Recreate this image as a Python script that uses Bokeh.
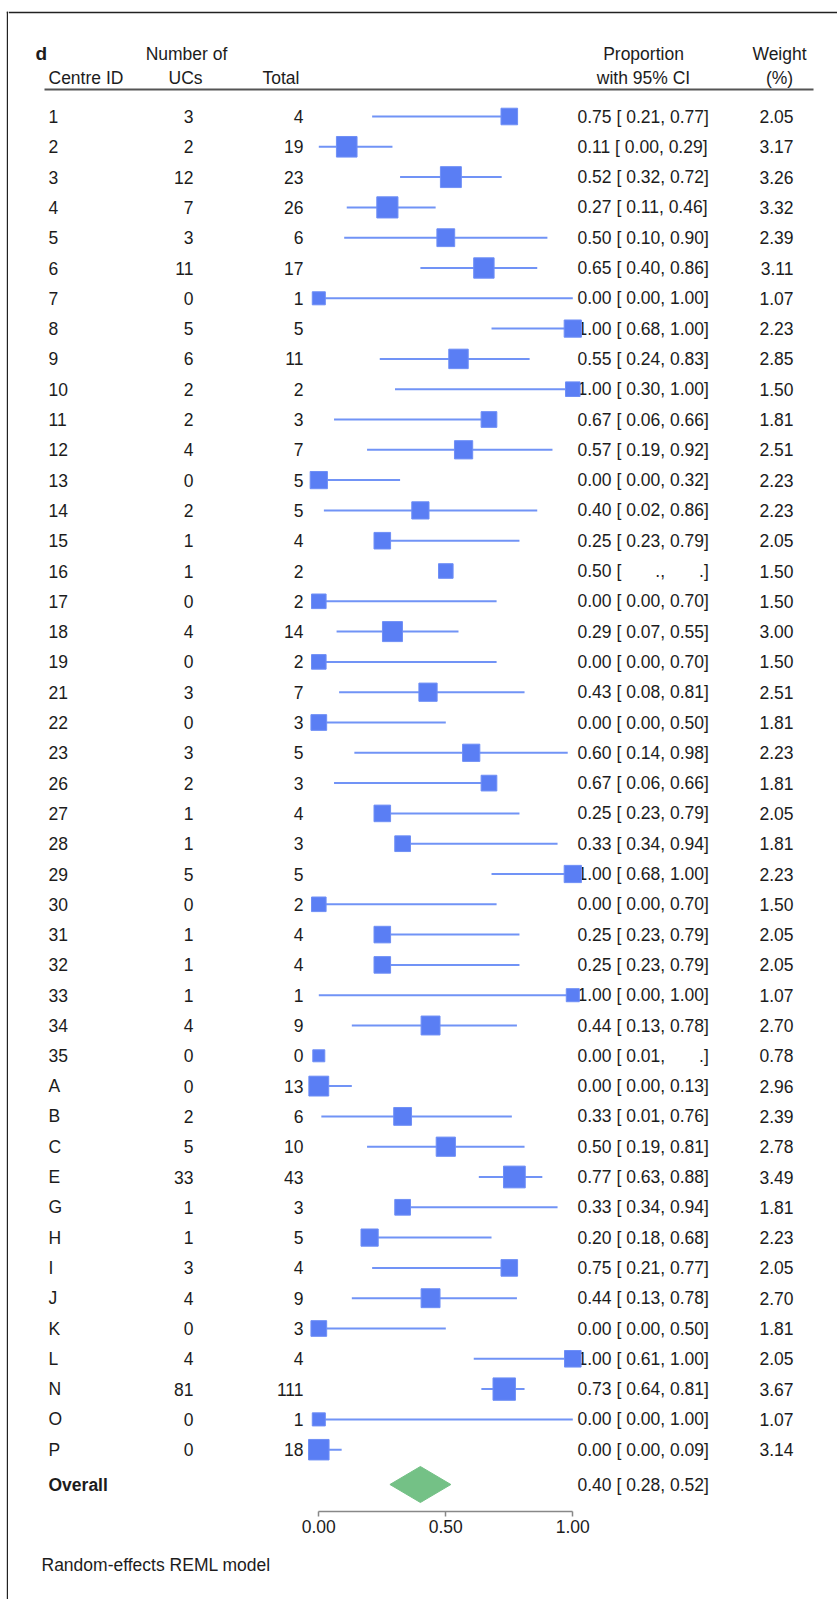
import math

from bokeh.core.properties import value
from bokeh.embed import file_html
from bokeh.layouts import column, row
from bokeh.models import (ColumnDataSource, FixedTicker, LinearAxis,
                          PrintfTickFormatter, Range1d)
from bokeh.plotting import figure
from bokeh.resources import INLINE

# ---- study-level data -------------------------------------------------------
centre_ids = ["1", "2", "3", "4", "5", "6", "7", "8", "9", "10", "11", "12", "13",
              "14", "15", "16", "17", "18", "19", "21", "22", "23", "26", "27", "28",
              "29", "30", "31", "32", "33", "34", "35", "A", "B", "C", "E", "G", "H",
              "I", "J", "K", "L", "N", "O", "P"]
n_ucs = [3, 2, 12, 7, 3, 11, 0, 5, 6, 2, 2, 4, 0, 2, 1, 1, 0, 4, 0, 3, 0, 3, 2, 1, 1,
         5, 0, 1, 1, 1, 4, 0, 0, 2, 5, 33, 1, 1, 3, 4, 0, 4, 81, 0, 0]
n_total = [4, 19, 23, 26, 6, 17, 1, 5, 11, 2, 3, 7, 5, 5, 4, 2, 2, 14, 2, 7, 3, 5, 3,
           4, 3, 5, 2, 4, 4, 1, 9, 0, 13, 6, 10, 43, 3, 5, 4, 9, 3, 4, 111, 1, 18]
proportion = [0.75, 0.11, 0.52, 0.27, 0.50, 0.65, 0.00, 1.00, 0.55, 1.00, 0.67, 0.57,
              0.00, 0.40, 0.25, 0.50, 0.00, 0.29, 0.00, 0.43, 0.00, 0.60, 0.67, 0.25,
              0.33, 1.00, 0.00, 0.25, 0.25, 1.00, 0.44, 0.00, 0.00, 0.33, 0.50, 0.77,
              0.33, 0.20, 0.75, 0.44, 0.00, 1.00, 0.73, 0.00, 0.00]
ci_low = [0.21, 0.00, 0.32, 0.11, 0.10, 0.40, 0.00, 0.68, 0.24, 0.30, 0.06, 0.19,
          0.00, 0.02, 0.23, None, 0.00, 0.07, 0.00, 0.08, 0.00, 0.14, 0.06, 0.23,
          0.34, 0.68, 0.00, 0.23, 0.23, 0.00, 0.13, 0.01, 0.00, 0.01, 0.19, 0.63,
          0.34, 0.18, 0.21, 0.13, 0.00, 0.61, 0.64, 0.00, 0.00]
ci_high = [0.77, 0.29, 0.72, 0.46, 0.90, 0.86, 1.00, 1.00, 0.83, 1.00, 0.66, 0.92,
           0.32, 0.86, 0.79, None, 0.70, 0.55, 0.70, 0.81, 0.50, 0.98, 0.66, 0.79,
           0.94, 1.00, 0.70, 0.79, 0.79, 1.00, 0.78, None, 0.13, 0.76, 0.81, 0.88,
           0.94, 0.68, 0.77, 0.78, 0.50, 1.00, 0.81, 1.00, 0.09]
weight_pct = [2.05, 3.17, 3.26, 3.32, 2.39, 3.11, 1.07, 2.23, 2.85, 1.50, 1.81, 2.51,
              2.23, 2.23, 2.05, 1.50, 1.50, 3.00, 1.50, 2.51, 1.81, 2.23, 1.81, 2.05,
              1.81, 2.23, 1.50, 2.05, 2.05, 1.07, 2.70, 0.78, 2.96, 2.39, 2.78, 3.49,
              1.81, 2.23, 2.05, 2.70, 1.81, 2.05, 3.67, 1.07, 3.14]

overall_est, overall_low, overall_high = 0.40, 0.28, 0.52
axis_ticks = [0.0, 0.5, 1.0]

# ---- page geometry ----------------------------------------------------------
W, H = 837, 1599
STRIP_W = 8                      # narrow strip holding the panel's left rule
MAIN_W = W - STRIP_W
FRAME_BOTTOM = 1511              # x axis line sits on the bottom of the frame
AXIS_PANEL = 34                  # room below the frame for ticks and labels
MAIN_H = FRAME_BOTTOM + AXIS_PANEL
FOOT_H = H - MAIN_H
X0_PX, X_SCALE = 318.3, 254.0    # page pixel of proportion 0, pixels per unit
ROW0_PX, ROW_STEP = 116.0, 30.3  # first study row and row pitch

FONT = "Liberation Sans"
FS = "17.5px"
INK = "#1c1c1c"
RULE = "#222222"
SQ_FILL = "#5a7ef4"
CI_LINE = "#7193f6"
DIAMOND = "#74c186"


def px_x(px):
    return (px - X0_PX) / X_SCALE


def px_y(py):
    return (py - ROW0_PX) / ROW_STEP


def fmt_bound(v):
    # right-justified 5-character field, "." for a missing bound
    if v is None:
        return "\u00a0" * 7 + "."
    return " " + f"{v:.2f}"


def bare(fig):
    fig.outline_line_color = None
    fig.background_fill_color = "white"
    fig.border_fill_color = "white"
    return fig


rows = list(range(len(centre_ids)))
src = ColumnDataSource(dict(
    row=rows,
    cid=centre_ids,
    ucs=[str(v) for v in n_ucs],
    total=[str(v) for v in n_total],
    est=proportion,
    lo=[math.nan if v is None else v for v in ci_low],
    hi=[math.nan if v is None else v for v in ci_high],
    sq=[9.2 + 3.6 * w for w in weight_pct],
    ci_text=[f"{e:.2f} [{fmt_bound(lo)},{fmt_bound(hi)}]"
             for e, lo, hi in zip(proportion, ci_low, ci_high)],
    wt=[f"{w:.2f}" for w in weight_pct],
))

# ---- left strip: panel rule running the full height -------------------------
strip = bare(figure(width=STRIP_W, height=H, output_backend="svg",
                    toolbar_location=None, x_range=Range1d(0, STRIP_W),
                    y_range=Range1d(H, 0), x_axis_type=None, y_axis_type=None,
                    min_border=0))
strip.quad(left=[6.3, 6.3], right=[7.8, STRIP_W], top=[11.3, 11.3],
           bottom=[H, 12.8], fill_color=RULE, line_color=None)

# ---- main panel: table, forest plot and axis --------------------------------
x_rng = Range1d(px_x(STRIP_W), px_x(W))
p = bare(figure(width=MAIN_W, height=MAIN_H, output_backend="svg",
                toolbar_location=None, x_range=x_rng,
                y_range=Range1d(px_y(FRAME_BOTTOM), px_y(0)),
                x_axis_type=None, y_axis_type=None,
                min_border_left=0, min_border_right=0, min_border_top=0,
                min_border_bottom=AXIS_PANEL))

# top rule of the panel
p.quad(left=[px_x(STRIP_W)], right=[px_x(W + 5)], top=[px_y(11.3)],
       bottom=[px_y(12.8)], fill_color=RULE, line_color=None)

# column headers
hdr1, hdr2 = px_y(53), px_y(77)
p.text(x=[px_x(35)], y=[hdr1], text=["d"], text_font=value(FONT),
       text_font_size=value("19px"), text_font_style="bold", text_color=INK,
       text_align="left", text_baseline="middle")
p.text(x=[px_x(186), px_x(643), px_x(779)], y=[hdr1] * 3,
       text=["Number of", "Proportion", "Weight"], text_font=value(FONT),
       text_font_size=value(FS), text_color=INK, text_align="center",
       text_baseline="middle")
p.text(x=[px_x(185), px_x(643), px_x(779)], y=[hdr2] * 3,
       text=["UCs", "with 95% CI", "(%)"], text_font=value(FONT),
       text_font_size=value(FS), text_color=INK, text_align="center",
       text_baseline="middle")
p.text(x=[px_x(48), px_x(262)], y=[hdr2] * 2, text=["Centre ID", "Total"],
       text_font=value(FONT), text_font_size=value(FS), text_color=INK,
       text_align="left", text_baseline="middle")
p.segment(x0=[px_x(44)], y0=[px_y(89)], x1=[px_x(813)], y1=[px_y(89)],
          line_color="#555555", line_width=2.2)

# table columns
for col, xpx, align in [("cid", 48, "left"), ("ucs", 193, "right"),
                        ("total", 303, "right"), ("ci_text", 577, "left"),
                        ("wt", 793, "right")]:
    p.text(x=px_x(xpx), y="row", text=col, source=src, text_font=value(FONT),
           text_font_size=value(FS), text_color=INK, text_align=align,
           text_baseline="middle")

# confidence intervals and weighted point estimates
p.segment(x0="lo", y0="row", x1="hi", y1="row", source=src,
          line_color=CI_LINE, line_width=2)
p.scatter(x="est", y="row", size="sq", marker="square", source=src,
          fill_color=SQ_FILL, line_color="#6f8ff6", line_width=1)

# pooled estimate
y_ov = px_y(1484)
half_h = 18 / ROW_STEP
p.patch(x=[overall_low, overall_est, overall_high, overall_est],
        y=[y_ov, y_ov - half_h, y_ov, y_ov + half_h],
        fill_color=DIAMOND, line_color=DIAMOND, line_width=1)
p.text(x=[px_x(48)], y=[y_ov], text=["Overall"], text_font=value(FONT),
       text_font_size=value(FS), text_font_style="bold", text_color=INK,
       text_align="left", text_baseline="middle")
p.text(x=[px_x(577)], y=[y_ov],
       text=[f"{overall_est:.2f} [{fmt_bound(overall_low)},{fmt_bound(overall_high)}]"],
       text_font=value(FONT), text_font_size=value(FS), text_color=INK,
       text_align="left", text_baseline="middle")

# proportion axis
ax = LinearAxis(bounds=(0, 1), ticker=FixedTicker(ticks=axis_ticks),
                formatter=PrintfTickFormatter(format="%.2f"))
ax.axis_line_color = "#888888"
ax.axis_line_width = 1.5
ax.major_tick_line_color = "#888888"
ax.major_tick_line_width = 1.5
ax.major_tick_in = 0
ax.major_tick_out = 5
ax.minor_tick_line_color = None
ax.major_label_standoff = 3
ax.major_label_text_font = FONT
ax.major_label_text_font_size = FS
ax.major_label_text_color = INK
p.add_layout(ax, "below")

# ---- footer: model note ------------------------------------------------------
foot = bare(figure(width=MAIN_W, height=FOOT_H, output_backend="svg",
                   toolbar_location=None, x_range=x_rng,
                   y_range=Range1d(H, MAIN_H), x_axis_type=None,
                   y_axis_type=None, min_border=0))
foot.text(x=[px_x(41)], y=[1564], text=["Random-effects REML model"],
          text_font=value(FONT), text_font_size=value(FS), text_color=INK,
          text_align="left", text_baseline="middle")

page = row(strip, column(p, foot, spacing=0), spacing=0)
open("out.html", "w").write(file_html(page, INLINE))
